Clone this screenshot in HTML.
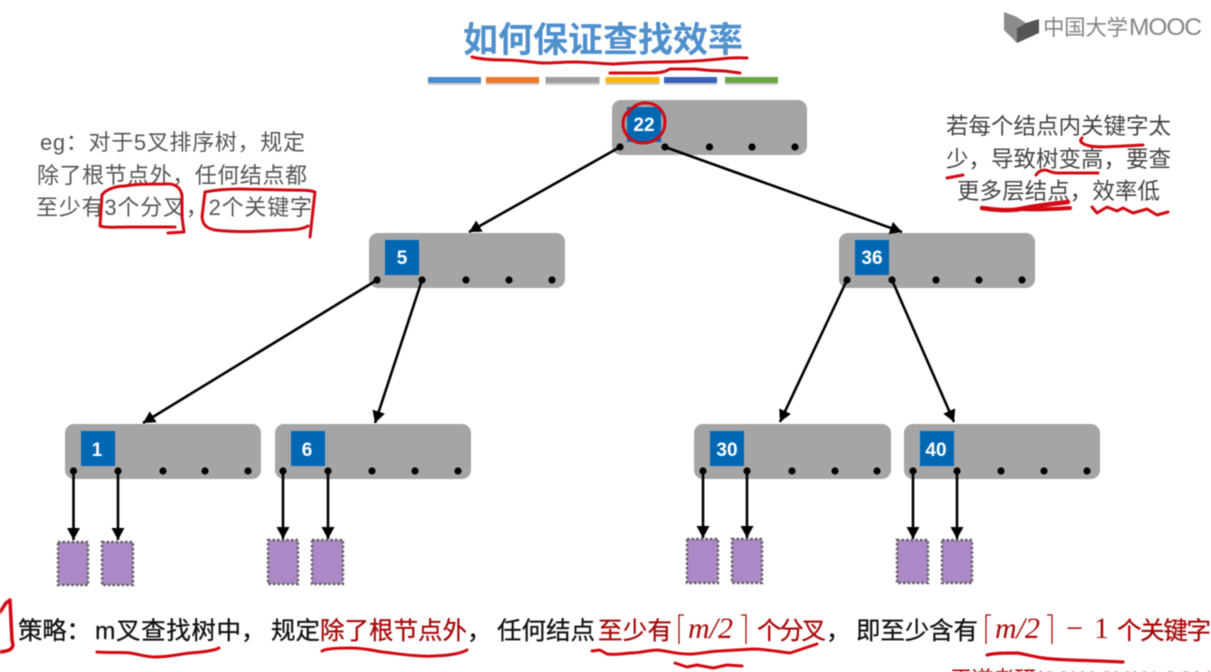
<!DOCTYPE html>
<html><head><meta charset="utf-8"><style>
html,body{margin:0;padding:0;background:#fff;width:1211px;height:672px;overflow:hidden}
svg{display:block;filter:blur(.4px)}
text{font-family:"Liberation Sans","Noto Sans CJK SC",sans-serif}
.k{fill:#a5a5a5}
.b{fill:#0067b3}
.n{fill:#fff;font-size:19px;font-weight:bold;text-anchor:middle}
.a{stroke:#000;stroke-width:2.6;fill:none;marker-end:url(#h)}
.d{fill:#000}
.p{fill:#ac88c6;stroke:#5e5e5e;stroke-width:2.4;stroke-dasharray:2.4 2.2}
.s{fill:none;stroke:#d20a14;stroke-width:3;stroke-linecap:round;stroke-linejoin:round}
.l{font-size:22px;fill:#555}
.r{font-size:22.5px;fill:#444}
.t{font-size:24.5px;fill:#111;stroke:#111;stroke-width:.3px}
.c{font-size:24.5px;fill:#a80808;stroke:#a80808;stroke-width:.3px}
.m{font-family:"Liberation Serif",serif;font-size:30px;fill:#a80808}
.br{fill:none;stroke:#a80808;stroke-width:1.3}
</style></head><body>
<svg width="1211" height="672" viewBox="0 0 1211 672" xmlns="http://www.w3.org/2000/svg">
<defs>
<marker id="h" markerUnits="userSpaceOnUse" markerWidth="14" markerHeight="14" refX="12" refY="6.500" orient="auto"><path d="M0,0L12,6.500L0,13z" fill="#000"/></marker>
</defs>

<!-- title -->
<text x="463" y="52" font-size="35" font-weight="bold" fill="#4f90cd" textLength="280" lengthAdjust="spacing">如何保证查找效率</text>
<g fill="#cfcfcf">
<rect x="428" y="83" width="53" height="2"/><rect x="486" y="83" width="53" height="2"/><rect x="545.500" y="83" width="54" height="2"/><rect x="605.500" y="83" width="54" height="2"/><rect x="664" y="83" width="53" height="2"/><rect x="725" y="83" width="53" height="2"/>
</g>
<rect x="428" y="77" width="53" height="6" fill="#4a8ccb"/>
<rect x="486" y="77" width="53" height="6" fill="#ea7a2a"/>
<rect x="545.500" y="77" width="54" height="6" fill="#a0a0a0"/>
<rect x="605.500" y="77" width="54" height="6" fill="#fdb913"/>
<rect x="664" y="77" width="53" height="6" fill="#3a62b8"/>
<rect x="725" y="77" width="53" height="6" fill="#6aa544"/>

<!-- logo -->
<polygon points="1004,12 1017,17 1026,23 1017,28 1017,43 1004,30" fill="#8c8c8c"/>
<polygon points="1026,23 1039,19 1039,33 1017,43 1017,28" fill="#555"/>
<text x="1043" y="35" font-size="21.500" fill="#858585" textLength="85" lengthAdjust="spacing">中国大学</text>
<text x="1129" y="35" font-size="24.500" fill="#858585" textLength="73" lengthAdjust="spacing">MOOC</text>

<!-- nodes -->
<rect class="k" x="612" y="100" width="195" height="55" rx="9"/>
<rect class="k" x="369" y="233" width="196" height="55" rx="9"/>
<rect class="k" x="839" y="233" width="196" height="55" rx="9"/>
<rect class="k" x="65" y="424" width="196" height="55" rx="9"/>
<rect class="k" x="275" y="424" width="196" height="55" rx="9"/>
<rect class="k" x="694" y="424" width="197" height="55" rx="9"/>
<rect class="k" x="904" y="424" width="196" height="55" rx="9"/>

<rect class="b" x="627" y="107" width="34" height="35"/>
<rect class="b" x="385" y="240" width="34" height="35"/>
<rect class="b" x="855" y="240" width="34" height="35"/>
<rect class="b" x="81" y="431" width="34" height="35"/>
<rect class="b" x="291" y="431" width="34" height="35"/>
<rect class="b" x="710" y="431" width="34" height="35"/>
<rect class="b" x="920" y="431" width="34" height="35"/>

<text class="n" x="644" y="131">22</text>
<text class="n" x="402" y="264">5</text>
<text class="n" x="872" y="264">36</text>
<text class="n" x="97" y="456">1</text>
<text class="n" x="307" y="456">6</text>
<text class="n" x="727" y="456">30</text>
<text class="n" x="936" y="456">40</text>

<!-- dots -->
<g class="d">
<circle cx="620" cy="147" r="3.6"/><circle cx="665" cy="147" r="3.6"/><circle cx="709.500" cy="147" r="3.6"/><circle cx="752" cy="147" r="3.6"/><circle cx="795" cy="147" r="3.6"/>
<circle cx="377" cy="280" r="3.6"/><circle cx="422" cy="280" r="3.6"/><circle cx="466" cy="280" r="3.6"/><circle cx="509" cy="280" r="3.6"/><circle cx="552" cy="280" r="3.6"/>
<circle cx="847" cy="280" r="3.6"/><circle cx="892" cy="280" r="3.6"/><circle cx="936" cy="280" r="3.6"/><circle cx="979" cy="280" r="3.6"/><circle cx="1022" cy="280" r="3.6"/>
<circle cx="73.500" cy="471" r="3.6"/><circle cx="118" cy="471" r="3.6"/><circle cx="163" cy="471" r="3.6"/><circle cx="205" cy="471" r="3.6"/><circle cx="248" cy="471" r="3.6"/>
<circle cx="283" cy="471" r="3.6"/><circle cx="328" cy="471" r="3.6"/><circle cx="372" cy="471" r="3.6"/><circle cx="415" cy="471" r="3.6"/><circle cx="458" cy="471" r="3.6"/>
<circle cx="703" cy="471" r="3.6"/><circle cx="747" cy="471" r="3.6"/><circle cx="792" cy="471" r="3.6"/><circle cx="835" cy="471" r="3.6"/><circle cx="877" cy="471" r="3.6"/>
<circle cx="913" cy="471" r="3.6"/><circle cx="957" cy="471" r="3.6"/><circle cx="1001" cy="471" r="3.6"/><circle cx="1044" cy="471" r="3.6"/><circle cx="1087" cy="471" r="3.6"/>
</g>

<!-- arrows -->
<line class="a" x1="620" y1="147" x2="469" y2="232"/>
<line class="a" x1="665" y1="147" x2="902" y2="232"/>
<line class="a" x1="377" y1="280" x2="143" y2="423"/>
<line class="a" x1="422" y1="280" x2="375" y2="423"/>
<line class="a" x1="847" y1="280" x2="780" y2="422"/>
<line class="a" x1="892" y1="280" x2="954" y2="422"/>
<line class="a" x1="73.500" y1="471" x2="73.500" y2="540"/>
<line class="a" x1="118" y1="471" x2="118" y2="540"/>
<line class="a" x1="283" y1="471" x2="283" y2="539"/>
<line class="a" x1="328" y1="471" x2="328" y2="539"/>
<line class="a" x1="703" y1="471" x2="703" y2="538"/>
<line class="a" x1="747" y1="471" x2="747" y2="538"/>
<line class="a" x1="913" y1="471" x2="913" y2="539"/>
<line class="a" x1="957" y1="471" x2="957" y2="539"/>

<!-- leaves -->
<rect class="p" x="58" y="542" width="30" height="43"/>
<rect class="p" x="102" y="542" width="31" height="43"/>
<rect class="p" x="268" y="540" width="30" height="44"/>
<rect class="p" x="312" y="540" width="31" height="44"/>
<rect class="p" x="687" y="539" width="31" height="44"/>
<rect class="p" x="732" y="539" width="30" height="44"/>
<rect class="p" x="897" y="540" width="31" height="43"/>
<rect class="p" x="942" y="540" width="30" height="43"/>

<!-- left note -->
<text class="l" x="40" y="150" textLength="265" lengthAdjust="spacing">eg：对于5叉排序树，规定</text>
<text class="l" x="37" y="183" textLength="270" lengthAdjust="spacing">除了根节点外，任何结点都</text>
<text class="l" x="36" y="215" textLength="276" lengthAdjust="spacing">至少有3个分叉，2个关键字</text>

<!-- right note -->
<text class="r" x="946" y="134" textLength="225" lengthAdjust="spacing">若每个结点内关键字太</text>
<text class="r" x="946" y="167" textLength="225" lengthAdjust="spacing">少，导致树变高，要查</text>
<text class="r" x="957" y="199" textLength="203" lengthAdjust="spacing">更多层结点，效率低</text>

<!-- bottom line -->
<text class="t" x="18" y="639" textLength="73" lengthAdjust="spacing">策略：</text>
<text class="t" x="95" y="639" textLength="146" lengthAdjust="spacing">m叉查找树中</text>
<text class="t" x="241" y="639">，</text>
<text class="t" x="271" y="639" textLength="49" lengthAdjust="spacing">规定</text>
<text class="c" x="320" y="639" textLength="147" lengthAdjust="spacing">除了根节点外</text>
<text class="t" x="467" y="639">，</text>
<text class="t" x="497" y="639" textLength="98" lengthAdjust="spacing">任何结点</text>
<text class="c" x="598" y="639" textLength="74" lengthAdjust="spacing">至少有</text>
<path class="br" d="M684,615H679V644M741,615H746V644"/>
<text class="m" x="688" y="638" font-style="italic">m/2</text>
<text class="c" x="757" y="639" textLength="69" lengthAdjust="spacing">个分叉</text>
<text class="t" x="826" y="639">，</text>
<text class="t" x="856" y="639" textLength="122" lengthAdjust="spacing">即至少含有</text>
<path class="br" d="M991,615H986V644M1047,615H1052V644"/>
<text class="m" x="995" y="638" font-style="italic">m/2</text>
<text class="m" x="1066" y="638" font-size="28">−</text>
<text class="m" x="1094" y="638" font-size="28">1</text>
<text class="c" x="1117" y="639" textLength="94" lengthAdjust="spacing">个关键字</text>

<text x="950" y="687" font-size="22" fill="#a80808" textLength="262" lengthAdjust="spacing">王道考研/CSKAOYAN.COM</text>

<!-- scribbles -->
<path class="s" d="M472,57C480,59 490,60 505,60S535,63 545,63S560,62 575,62S605,64 612,64S640,62 660,62S700,61 720,59S740,58 747,58"/>
<path class="s" d="M610,73L650,73C660,73 665,72 670,69L695,69C705,70 710,71 725,71L740,73"/>
<path class="s" d="M628,114C632,106 640,102 648,103C658,104 665,112 665,122C665,135 655,143 643,143C630,143 623,133 623,123C623,118 626,112 630,110"/>
<path class="s" d="M102,195C105,190 115,186 125,186C135,184 150,184 165,184C175,183 180,187 182,195L182,217L184,232L168,233"/>
<path class="s" d="M102,195L100,226C105,228 115,227 130,227L175,227"/>
<path class="s" d="M205,192L202,217C203,225 206,228 215,230C240,233 265,231 285,230C295,230 303,229 308,226"/>
<path class="s" d="M205,192C215,190 225,189 240,189L287,190C300,190 310,190 315,192L310,237"/>
<path class="s" d="M1082,138C1079,141 1081,144 1090,146C1100,148 1120,146 1143,145"/>
<path class="s" d="M947,178L963,175"/>
<path class="s" d="M1036,175C1038,172 1041,170 1045,170C1049,170 1050,173 1058,173L1098,173"/>
<path class="s" d="M982,208C995,210 1010,211 1020,209C1035,206 1050,204 1068,202" style="stroke-width:4.500"/>
<path class="s" d="M1020,209C1035,210 1055,209 1070,208" style="stroke-width:4"/>
<path class="s" d="M1092,207L1097,213L1107,207L1117,211L1123,208L1133,213L1147,209L1157,215L1168,212"/>
<path class="s" d="M97,652C110,653 125,652 130,653C138,654 145,657 155,657C170,657 180,654 190,653C205,652 215,650 219,648"/>
<path class="s" d="M322,651C325,649 335,648 350,648C365,648 375,651 383,652C400,654 420,657 433,656C445,656 460,654 467,650"/>
<path class="s" d="M592,651L600,650L607,654C615,655 622,654 630,653C640,653 650,650 657,650C668,651 680,655 693,654C705,653 712,651 720,651L753,649C765,649 780,652 790,653L817,644"/>
<path class="s" d="M675,663L687,667L697,665L713,668L727,665L742,666"/>
<path class="s" d="M987,655C995,653 1005,653 1017,653C1025,654 1035,657 1043,658C1055,660 1075,660 1100,661L1123,662" style="stroke-width:3.200"/>
<path class="s" d="M0,612L6,603L10,600L11,620L12,640L13,645C12,650 8,651 0,652" style="stroke-width:3.500"/>
</svg>
</body></html>
